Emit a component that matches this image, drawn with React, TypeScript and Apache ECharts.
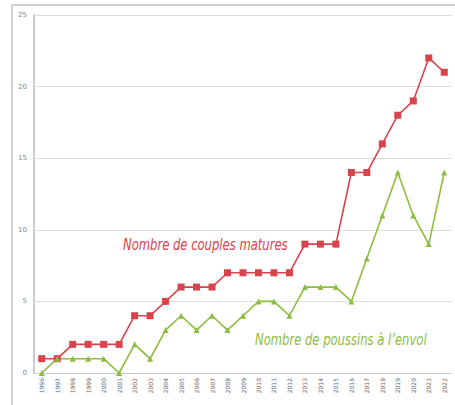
import React, { useEffect, useRef } from "react";
import * as echarts from "echarts";

const years = [
  "1996", "1997", "1998", "1999", "2000", "2001", "2002", "2003", "2004",
  "2005", "2006", "2007", "2008", "2009", "2010", "2011", "2012", "2013",
  "2014", "2015", "2016", "2017", "2018", "2019", "2020", "2021", "2022",
];
const couplesMatures = [1, 1, 2, 2, 2, 2, 4, 4, 5, 6, 6, 6, 7, 7, 7, 7, 7, 9, 9, 9, 14, 14, 16, 18, 19, 22, 21];
const poussinsEnvol = [0, 1, 1, 1, 1, 0, 2, 1, 3, 4, 3, 4, 3, 4, 5, 5, 4, 6, 6, 6, 5, 8, 11, 14, 11, 9, 14];
const yTicks = [0, 5, 10, 15, 20, 25];

const RED = "#d8434c";
const GREEN = "#8cbd3f";

export default function App() {
  const ref = useRef<HTMLDivElement>(null);
  useEffect(() => {
    if (!ref.current) return;
    const chart = echarts.init(ref.current, null, { renderer: "svg" });
    chart.setOption({
      animation: false,
      backgroundColor: "#ffffff",
      grid: { left: 34, right: 3, top: 15, bottom: 32, containLabel: false },
      xAxis: {
        type: "category",
        data: years,
        boundaryGap: true,
        axisLine: { show: true, lineStyle: { color: "#cccccc", width: 1 } },
        axisTick: { show: false },
        axisLabel: {
          rotate: 90,
          interval: 0,
          fontSize: 6,
          color: "#666666",
          fontFamily: "DejaVu Sans",
          margin: 5,
        },
      },
      yAxis: {
        type: "value",
        min: 0,
        max: yTicks[yTicks.length - 1],
        interval: 5,
        axisLine: { show: true, lineStyle: { color: "#cccccc", width: 2 } },
        axisTick: { show: false },
        splitLine: { lineStyle: { color: "#dddddd", width: 1 } },
        axisLabel: { fontSize: 7, color: "#888888", fontFamily: "DejaVu Sans", margin: 7 },
      },
      series: [
        {
          name: "Nombre de couples matures",
          type: "line",
          data: couplesMatures,
          symbol: "rect",
          symbolSize: 7,
          lineStyle: { color: RED, width: 1.6 },
          itemStyle: { color: RED },
        },
        {
          name: "Nombre de poussins à l'envol",
          type: "line",
          data: poussinsEnvol,
          symbol: "triangle",
          symbolSize: 6,
          lineStyle: { color: GREEN, width: 1.6 },
          itemStyle: { color: GREEN },
        },
      ],
      graphic: [
        {
          type: "line",
          shape: { x1: 12, y1: 5, x2: 455, y2: 5 },
          style: { stroke: "#cfcfcf", lineWidth: 2 },
          silent: true,
        },
        {
          type: "line",
          shape: { x1: 12, y1: 5, x2: 12, y2: 405 },
          style: { stroke: "#cfcfcf", lineWidth: 2 },
          silent: true,
        },
        {
          type: "text",
          x: 123,
          y: 245,
          scaleX: 0.86,
          style: {
            text: "Nombre de couples matures",
            fill: RED,
            fontStyle: "italic",
            fontSize: 15,
            fontFamily: "DejaVu Sans Condensed",
            verticalAlign: "middle",
          },
        },
        {
          type: "text",
          x: 255,
          y: 340,
          scaleX: 0.86,
          style: {
            text: "Nombre de poussins à l\u2019envol",
            fill: GREEN,
            fontStyle: "italic",
            fontSize: 15,
            fontFamily: "DejaVu Sans Condensed",
            verticalAlign: "middle",
          },
        },
      ],
    });
    return () => chart.dispose();
  }, []);
  return <div ref={ref} style={{ width: 455, height: 405, position: "absolute", left: 0, top: 0 }} />;
}
